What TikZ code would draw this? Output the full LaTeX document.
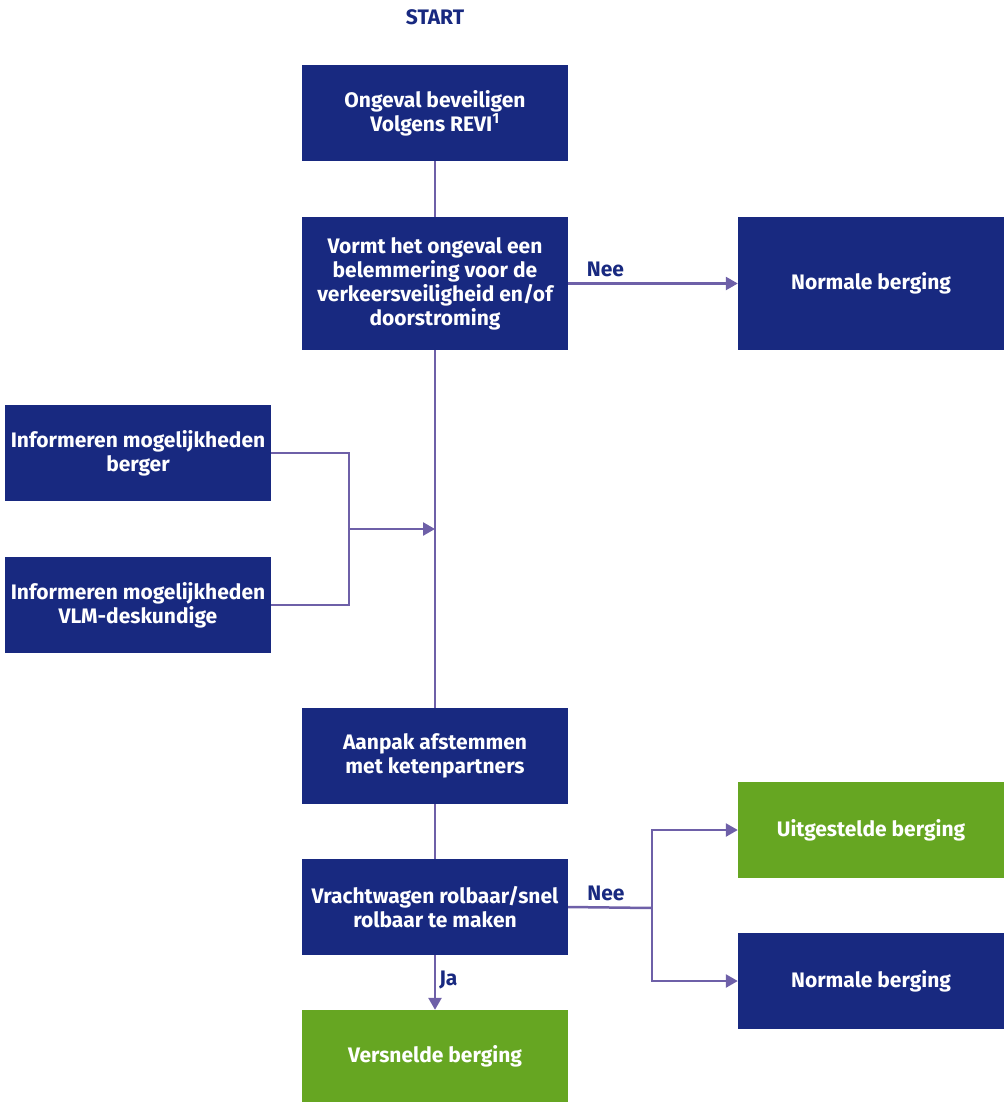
\documentclass[tikz,border=0pt]{standalone}
\usepackage{fontspec}
\setmainfont{Fira Sans}
\usetikzlibrary{arrows.meta,positioning}
\definecolor{rwsblue}{RGB}{24,41,128}
\definecolor{rwsgreen}{RGB}{102,166,34}
\definecolor{rwsline}{RGB}{110,96,168}

\begin{document}
\begin{tikzpicture}[x=1pt, y=-1pt,
    every node/.style={font=\bfseries\fontsize{21}{24}\selectfont, align=center},
    box/.style={fill=rwsblue, text=white, minimum width=266pt, minimum height=96pt, inner sep=0pt},
    gbox/.style={box, fill=rwsgreen},
    lbl/.style={text=rwsblue, inner sep=1pt},
    conn/.style={draw=rwsline, line width=2.5pt},
    arr/.style={conn, -{Triangle[length=12pt,width=13pt]}}]
\useasboundingbox (0,0) rectangle (1005,1103);

\node[lbl] (start) at (435,17) {START};
\node[box] (beveilig) at (435,113) {Ongeval beveiligen\\Volgens REVI\textsuperscript{1}};
\node[box, minimum height=133pt] (belem) at (435,283.5) {Vormt het ongeval een\\belemmering voor de\\verkeersveiligheid en/of\\doorstroming};
\node[box, minimum height=133pt] (normaal1) at (871,283.5) {Normale berging};
\node[box] (berger) at (138,453) {Informeren mogelijkheden\\berger};
\node[box] (vlm) at (138,605) {Informeren mogelijkheden\\VLM-deskundige};
\node[box] (aanpak) at (435,756) {Aanpak afstemmen\\met ketenpartners};
\node[box] (rolbaar) at (435,907) {Vrachtwagen rolbaar/snel\\rolbaar te maken};
\node[gbox, minimum height=92pt] (versneld) at (435,1056) {Versnelde berging};
\node[gbox] (uitgesteld) at (871,830) {Uitgestelde berging};
\node[box] (normaal2) at (871,981) {Normale berging};

\coordinate (join) at (349,529);
\coordinate (main) at (435,529);
\coordinate (split) at (652,908);

\draw[conn] (beveilig) -- (belem);
\draw[arr] (belem) -- node[lbl, above, pos=0.22, yshift=4pt] {Nee} (normaal1);
\draw[conn] (belem) -- (aanpak);
\draw[conn] (berger.east) -| (join) |- (vlm.east);
\draw[arr] (join) -- (main);
\draw[conn] (aanpak) -- (rolbaar);
\draw[conn] (rolbaar.east) -- node[lbl, above, pos=0.45, yshift=4pt] {Nee} (split);
\draw[arr] (split) |- (uitgesteld.west);
\draw[arr] (split) |- (normaal2.west);
\draw[arr] (rolbaar) -- node[lbl, right, pos=0.45, xshift=2pt] {Ja} (versneld);
\end{tikzpicture}
\end{document}
